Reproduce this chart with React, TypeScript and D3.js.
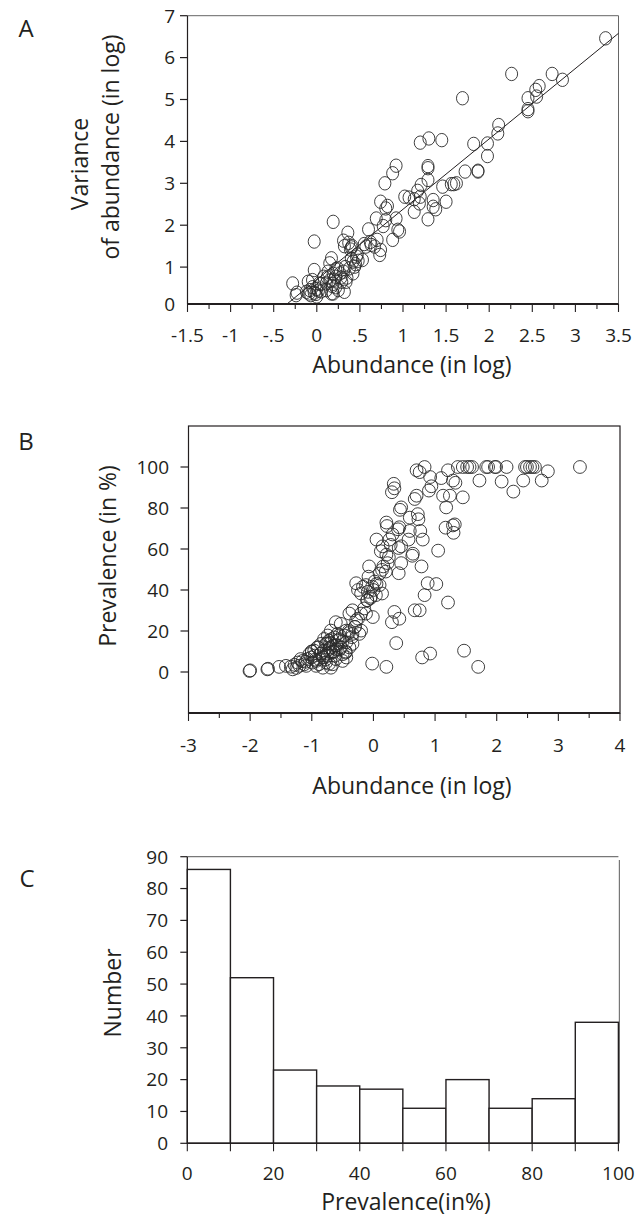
import React from 'react';
import * as d3 from 'd3';

const FONT = "'Open Sans', 'DejaVu Sans', sans-serif";
const INK = '#231f20';
const DOT = '#2a2a2a';

// ---------- Panel A: abundance (log) vs variance of abundance (log)
const abundanceA = [3.35, 2.26, 2.73, 2.85, 2.58, 2.54, 2.55, 2.45, 2.45, 2.45, 1.69, 2.11, 2.10, 1.98, 1.98, 1.82, 1.72, 1.87, 1.87, 1.20, 1.30, 1.45, 1.29, 1.29, 0.92, 0.88, 0.79, 1.46, 1.56, 1.59, 1.62, 1.50, 1.38, 1.29, 1.29, 1.21, 1.17, 1.20, 1.13, 1.19, 1.13, 1.02, 1.07, 1.35, 1.35, 0.74, 0.82, 0.80, 0.69, 0.80, 0.77, 0.73, 0.74, 0.94, 0.96, 0.88, 0.92, 0.60, 0.70, 0.63, 0.57, 0.67, 0.53, 0.45, 0.42, 0.40, 0.41, 0.39, 0.37, 0.36, 0.31, 0.32, 0.19, -0.03, 0.17, 0.46, 0.44, -0.28, -0.23, -0.24, -0.10, -0.09, -0.05, -0.03, -0.01, 0.02, -0.03, 0.13, 0.15, 0.17, 0.19, 0.22, 0.27, 0.31, 0.32, 0.34, 0.38, 0.11, 0.19, 0.22, 0.08, 0.19, 0.24, -0.05, -0.12, 0.03, 0.15, 0.29, 0.11, 0.05, 0.25, 0.35, 0.42, 0.20, -0.07, 0.00, 0.48, 0.55, 0.62,
  0.05, 0.12, 0.18, 0.28, 0.00, -0.08, 0.22, 0.33, 0.40, 0.47];
const varianceA = [6.46, 5.61, 5.61, 5.47, 5.32, 5.23, 5.07, 5.03, 4.77, 4.72, 5.03, 4.39, 4.19, 3.95, 3.65, 3.94, 3.28, 3.30, 3.28, 3.97, 4.07, 4.03, 3.41, 3.36, 3.42, 3.24, 3.00, 2.92, 2.98, 2.98, 3.00, 2.56, 2.38, 2.14, 3.08, 2.96, 2.82, 2.68, 2.62, 2.52, 2.32, 2.68, 2.66, 2.60, 2.44, 2.56, 2.46, 2.40, 2.16, 2.12, 1.98, 1.29, 1.41, 1.89, 1.85, 1.65, 2.16, 1.90, 1.65, 1.53, 1.49, 1.49, 1.17, 1.07, 1.13, 1.47, 1.50, 1.42, 1.58, 1.82, 1.63, 1.50, 2.08, 1.61, 1.21, 1.25, 1.01, 0.61, 0.39, 0.33, 0.65, 0.37, 0.52, 0.39, 0.36, 0.44, 0.93, 0.89, 0.68, 0.37, 0.37, 0.77, 0.85, 0.89, 0.41, 0.65, 0.97, 0.61, 0.60, 0.52, 0.77, 0.84, 0.97, 0.69, 0.41, 0.61, 1.09, 0.65, 0.45, 0.42, 0.45, 0.75, 0.85, 0.70, 0.33, 0.30, 1.15, 1.55, 1.60,
  0.60, 0.75, 0.55, 0.75, 0.48, 0.45, 0.95, 1.00, 1.20, 1.30];
const fitIntercept = 0.70;
const fitSlope = 1.68;
const xTicksA = [-1.5, -1, -0.5, 0, 0.5, 1, 1.5, 2, 2.5, 3, 3.5];
const xTickLabelsA = ['-1.5', '-1', '-.5', '0', '.5', '1', '1.5', '2', '2.5', '3', '3.5'];
const yTicksA = [0, 1, 2, 3, 4, 5, 6, 7];

// ---------- Panel B: abundance (log) vs prevalence (%)
const abundanceB = [1.37, 1.45, 1.52, 1.56, 1.60, 1.83, 1.86, 1.97, 1.99, 2.16, 2.46, 2.49, 2.54, 2.58, 2.62, 3.35, 0.83, 0.70, 0.75, 1.21, 2.83, 1.72, 2.08, 2.43, 2.73, 2.27, 0.92, 0.94, 0.90, 1.10, 1.29, 1.33, 1.13, 1.24, 1.18, 1.45, 1.29, 1.32, 1.17, 1.30, 1.05, 0.88, 1.02, 0.83, 1.21, 0.67, 0.75, 0.34, 0.30, 0.42, 0.37, -0.02, 0.21, 0.79, 0.92, 1.47, 1.70,
  0.33, 0.34, 0.30, 0.45, 0.43, 0.67, 0.70, 0.59, 0.72, 0.73, 0.76, 0.80, 0.63, 0.64, 0.78, 0.21, 0.22, 0.40, 0.42, 0.31, 0.26, 0.05, 0.15, 0.12, 0.21, 0.45, 0.41, 0.57, 0.59, 0.45, 0.41, 0.16, 0.20, 0.14, 0.23, -0.07, -0.08, -0.12, -0.02, 0.02, 0.10, 0.14, 0.04, -0.04, -0.09, -0.28, -0.25, -0.20, -0.17, -0.01, -0.12, -0.20, -0.34, -0.39, -0.28, -0.23, -0.20, -0.34, -0.44, -0.47, -0.53, -0.61, -0.58,
  -0.69, -0.72, -0.77, -0.66, -0.61, -0.53, -0.50, -0.39, -0.44, -0.34, -0.69, -0.74, -0.82, -0.88, -0.93, -0.99, -1.01, -1.07, -1.09, -0.93, -0.88, -0.77, -0.66, -0.69, -0.82, -0.61, -0.50, -0.44, -0.80, -0.72, -0.58, -0.63,
  -2.01, -2.00, -1.72, -1.71, -1.53, -1.42, -1.34, -1.31, -1.28, -1.23, -1.15, -1.12, -1.18, -1.04, -0.96, -0.91, -0.85, -0.80, -0.74,
  -0.75, -0.70, -0.65, -0.60, -0.55, -0.85, -0.95, -1.00, -0.45, -0.40, -0.30, -0.35, -0.05, 0.00, 0.05, -0.10, 0.10, 0.25, 0.28,
  -0.75, -0.70, -0.65, -0.60, -0.55, -0.85, -0.95, -1.00, -0.50, -0.45, -0.78, -0.62, -0.68, -0.90, -0.55, -0.40, -0.30, -0.25, -0.15, -0.10, -1.20, -1.10, -1.25, -0.72];
const prevalenceB = [100, 100, 100, 100, 100, 100, 100, 100, 100, 100, 100, 100, 100, 100, 100, 100, 100, 98.4, 97.5, 98.4, 97.9, 93.4, 92.9, 93.4, 93.4, 88.0, 95.1, 90.6, 88.5, 94.6, 93.4, 92.3, 86.0, 86.0, 80.3, 85.2, 71.5, 72.0, 70.4, 67.9, 59.2, 43.3, 42.9, 37.5, 33.9, 30.1, 30.1, 29.3, 24.3, 26.0, 14.1, 4.1, 2.5, 7.1, 9.0, 10.4, 2.5,
  91.8, 89.6, 87.7, 80.3, 79.1, 84.4, 86.0, 75.3, 77.0, 74.5, 68.8, 64.6, 56.7, 57.7, 51.5, 72.9, 71.2, 69.6, 70.6, 67.1, 64.6, 64.6, 61.3, 58.9, 57.2, 61.3, 60.5, 64.6, 68.8, 53.1, 48.2, 51.5, 49.0, 49.8, 53.1, 51.5, 46.5, 42.4, 41.6, 44.1, 42.4, 38.3, 37.5, 36.7, 39.1, 43.3, 40.0, 38.3, 41.6, 26.8, 28.5, 28.5, 30.1, 28.5, 25.2, 18.6, 20.2, 18.6, 20.2, 17.8, 23.5, 24.3, 18.6,
  20.2, 15.3, 13.7, 12.8, 11.2, 12.0, 8.7, 12.0, 14.5, 13.7, 9.5, 7.9, 7.1, 6.3, 5.4, 4.6, 7.1, 6.3, 3.0, 3.0, 3.8, 4.6, 3.8, 2.1, 2.1, 6.3, 5.4, 7.1, 10.4, 11.2, 15.3, 16.9,
  0.5, 0.8, 1.3, 1.6, 2.5, 3.0, 2.6, 1.3, 3.5, 4.6, 5.4, 3.8, 6.3, 8.7, 10.4, 12.0, 13.7, 16.1, 17.8,
  9.0, 14.0, 10.0, 13.0, 16.0, 9.0, 6.0, 10.0, 9.5, 20.0, 22.0, 17.0, 36.0, 40.0, 43.0, 35.0, 48.0, 56.0, 62.0,
  14.0, 12.0, 10.0, 13.0, 11.0, 9.0, 8.0, 10.0, 15.0, 10.0, 6.0, 8.0, 16.0, 12.0, 18.0, 19.0, 22.0, 26.0, 31.0, 35.0, 3.0, 5.0, 2.0, 4.0];
const xTicksB = [-3, -2, -1, 0, 1, 2, 3, 4];
const yTicksB = [0, 20, 40, 60, 80, 100];

// ---------- Panel C: histogram of prevalence
const binStarts = [0, 10, 20, 30, 40, 50, 60, 70, 80, 90];
const binCounts = [86, 52, 23, 18, 17, 11, 20, 11, 14, 38];
const xTicksC = [0, 20, 40, 60, 80, 100];
const yTicksC = [0, 10, 20, 30, 40, 50, 60, 70, 80, 90];

const TICK_FS = 19;
const TITLE_FS = 23;

function PanelA() {
  const x = d3.scaleLinear().domain([-1.5, 3.5]).range([187.5, 618.5]);
  const y = d3.scaleLinear().domain([0, 7]).range([309, 15.7]);
  const floor = 0.12;
  const yAxis = y(floor);
  const minor = d3.range(-1.5, 3.5001, 0.25);
  const xStart = (floor - fitIntercept) / fitSlope;
  const fit = d3.line<number>().x((d) => x(d)).y((d) => y(fitIntercept + fitSlope * d));
  return (
    <g>
      <text x={26} y={37} fontSize={24} textAnchor="middle" fill={INK}>A</text>
      <line x1={x(-1.5)} x2={x(3.5)} y1={y(7)} y2={y(7)} stroke="#666" strokeWidth={1} />
      <line x1={x(3.5)} x2={x(3.5)} y1={y(7)} y2={yAxis} stroke="#666" strokeWidth={1} />
      <line x1={x(-1.5)} x2={x(-1.5)} y1={y(7)} y2={yAxis} stroke={INK} strokeWidth={1.2} />
      {yTicksA.filter((t) => t > 0).map((t) => (
        <line key={t} x1={x(-1.5) - 7.5} x2={x(-1.5)} y1={y(t)} y2={y(t)} stroke={INK} strokeWidth={1.2} />
      ))}
      {yTicksA.map((t) => (
        <text key={t} x={175} y={t === 0 ? yAxis : y(t)} dy="0.36em" fontSize={TICK_FS} textAnchor="end" fill={INK}>{t}</text>
      ))}
      {minor.map((t, i) => (
        <line key={i} x1={x(t)} x2={x(t)} y1={yAxis} y2={yAxis + (i % 2 === 0 ? 8 : 5)} stroke={INK} strokeWidth={1.1} />
      ))}
      {xTicksA.map((t, i) => (
        <text key={t} x={x(t)} y={342} fontSize={TICK_FS} textAnchor="middle" fill={INK}>{xTickLabelsA[i]}</text>
      ))}
      <path d={fit([xStart, 3.5]) || ''} stroke={INK} strokeWidth={1} fill="none" />
      {abundanceA.map((a, i) => (
        <ellipse key={i} cx={x(a)} cy={y(varianceA[i])} rx={6} ry={6.7} fill="none" stroke={DOT} strokeWidth={0.9} />
      ))}
      <line x1={x(-1.5)} x2={x(3.5)} y1={yAxis} y2={yAxis} stroke={INK} strokeWidth={2} />
      <text x={412} y={373} fontSize={TITLE_FS} textAnchor="middle" fill={INK}>Abundance (in log)</text>
      <text transform={`translate(88,164) rotate(-90)`} fontSize={TITLE_FS} textAnchor="middle" fill={INK}>Variance</text>
      <text transform={`translate(119,147) rotate(-90)`} fontSize={TITLE_FS} textAnchor="middle" fill={INK}>of abundance (in log)</text>
    </g>
  );
}

function PanelB() {
  const x = d3.scaleLinear().domain([-3, 4]).range([188.5, 620]);
  const y = d3.scaleLinear().domain([-20, 120]).range([713, 426]);
  const minor = d3.range(-3, 4.001, 0.5);
  return (
    <g>
      <text x={26} y={450} fontSize={24} textAnchor="middle" fill={INK}>B</text>
      <rect x={x(-3)} y={y(120)} width={x(4) - x(-3)} height={y(-20) - y(120)} fill="none" stroke={INK} strokeWidth={1.2} />
      {yTicksB.map((t) => (
        <g key={t}>
          <line x1={x(-3) - 8} x2={x(-3)} y1={y(t)} y2={y(t)} stroke={INK} strokeWidth={1.2} />
          <text x={169} y={y(t)} dy="0.36em" fontSize={TICK_FS} textAnchor="end" fill={INK}>{t}</text>
        </g>
      ))}
      {minor.map((t, i) => (
        <line key={i} x1={x(t)} x2={x(t)} y1={y(-20)} y2={y(-20) + (i % 2 === 0 ? 8 : 5)} stroke={INK} strokeWidth={1.1} />
      ))}
      {xTicksB.map((t) => (
        <text key={t} x={x(t)} y={752} fontSize={TICK_FS} textAnchor="middle" fill={INK}>{t}</text>
      ))}
      {abundanceB.map((a, i) => (
        <circle key={i} cx={x(a)} cy={y(prevalenceB[i])} r={6.4} fill="none" stroke={DOT} strokeWidth={0.9} />
      ))}
      <line x1={x(-3)} x2={x(4)} y1={y(-20)} y2={y(-20)} stroke={INK} strokeWidth={1.8} />
      <text x={412} y={794} fontSize={TITLE_FS} textAnchor="middle" fill={INK}>Abundance (in log)</text>
      <text transform={`translate(116,556) rotate(-90)`} fontSize={TITLE_FS} textAnchor="middle" fill={INK}>Prevalence (in %)</text>
    </g>
  );
}

function PanelC() {
  const x = d3.scaleLinear().domain([0, 100]).range([187.3, 618.4]);
  const y = d3.scaleLinear().domain([0, 90]).range([1143.3, 856.7]);
  return (
    <g>
      <text x={27} y={887} fontSize={24} textAnchor="middle" fill={INK}>C</text>
      <line x1={x(0)} x2={x(100)} y1={y(90)} y2={y(90)} stroke="#777" strokeWidth={1.2} />
      <line x1={x(100) + 1} x2={x(100) + 1} y1={y(89)} y2={y(0)} stroke="#777" strokeWidth={1.2} />
      {binStarts.map((b, i) => (
        <rect key={b} x={x(b)} y={y(binCounts[i])} width={x(b + 10) - x(b)} height={y(0) - y(binCounts[i])} fill="#fff" stroke={INK} strokeWidth={1.4} />
      ))}
      <line x1={x(0)} x2={x(0)} y1={y(90)} y2={y(0)} stroke={INK} strokeWidth={1.3} />
      {yTicksC.map((t) => (
        <g key={t}>
          <line x1={x(0) - 7} x2={x(0)} y1={y(t)} y2={y(t)} stroke={INK} strokeWidth={1.2} />
          <text x={168} y={y(t)} dy="0.36em" fontSize={TICK_FS} textAnchor="end" fill={INK}>{t}</text>
        </g>
      ))}
      {binStarts.concat([100]).map((t) => (
        <line key={t} x1={x(t)} x2={x(t)} y1={y(0)} y2={y(0) + 8} stroke={INK} strokeWidth={1.1} />
      ))}
      <line x1={x(0)} x2={x(100)} y1={y(0)} y2={y(0)} stroke={INK} strokeWidth={1.6} />
      {xTicksC.map((t) => (
        <text key={t} x={x(t)} y={1180} fontSize={TICK_FS} textAnchor="middle" fill={INK}>{t}</text>
      ))}
      <text x={406} y={1210} fontSize={TITLE_FS} textAnchor="middle" fill={INK}>Prevalence(in%)</text>
      <text transform={`translate(121,993) rotate(-90)`} fontSize={TITLE_FS} textAnchor="middle" fill={INK}>Number</text>
    </g>
  );
}

export default function App() {
  return (
    <svg width={641} height={1216} viewBox="0 0 641 1216" style={{ position: 'absolute', left: 0, top: 0, background: '#fff' }} fontFamily={FONT}>
      <rect x={0} y={0} width={641} height={1216} fill="#fff" />
      <PanelA />
      <PanelB />
      <PanelC />
    </svg>
  );
}
